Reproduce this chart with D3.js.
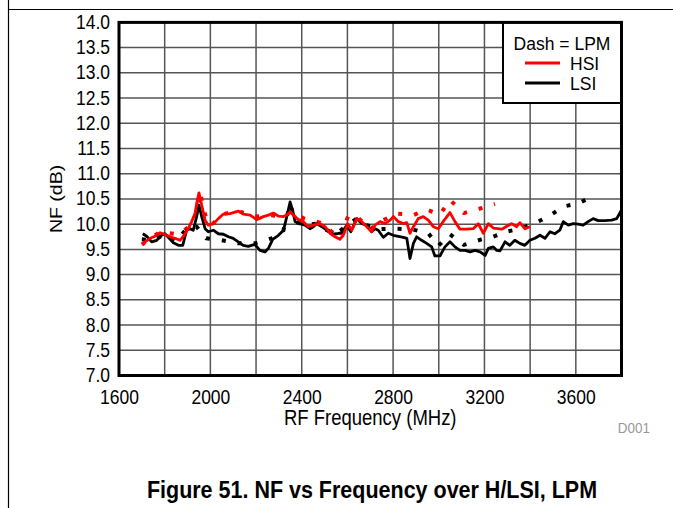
<!DOCTYPE html>
<html>
<head>
<meta charset="utf-8">
<script src="https://cdn.jsdelivr.net/npm/d3@7"></script>
<style>
  body { margin: 0; background: #fff; }
  text { font-family: "Liberation Sans", Arial, sans-serif; fill: #000; }
</style>
</head>
<body>
<div id="chart"></div>
<script>
// data (MHz, dB)
var hsiHpmFreq = [1704,1714,1736,1758,1780,1801,1823,1845,1867,1882,1903,1918,1933,1940,1950,1962,1977,1991,2013,2035,2057,2086,2122,2144,2174,2203,2232,2254,2276,2298,2320,2334,2349,2364,2385,2407,2429,2451,2480,2502,2524,2546,2567,2582,2601,2619,2641,2663,2685,2706,2721,2743,2765,2787,2801,2823,2845,2860,2874,2889,2910,2932,2954,2976,2998,3019,3049,3071,3093,3122,3151,3173,3195,3217,3240,3276,3298,3319,3341,3355,3377,3399];
var hsiHpmNF   = [9.58,9.65,9.72,9.76,9.83,9.80,9.75,9.72,9.68,9.76,9.91,10.05,10.21,10.41,10.62,10.38,10.08,9.98,10.01,10.11,10.20,10.21,10.26,10.20,10.18,10.09,10.15,10.18,10.22,10.16,10.15,10.18,10.24,10.18,10.09,10.05,9.95,9.98,10.01,9.95,9.82,9.75,9.70,9.78,10.01,9.88,10.11,10.05,9.95,9.85,9.98,10.05,10.01,10.08,10.15,10.05,10.01,10.03,9.82,9.95,10.11,10.15,10.08,9.95,9.91,10.05,10.23,10.05,9.90,9.90,9.91,10.01,9.82,10.01,9.92,9.90,9.96,10.01,9.95,10.03,9.91,9.95];

var lsiHpmFreq = [1704,1721,1743,1765,1787,1801,1820,1838,1860,1879,1896,1911,1925,1940,1950,1962,1977,1991,2013,2035,2057,2079,2100,2122,2144,2166,2195,2217,2239,2254,2273,2298,2320,2331,2341,2349,2360,2371,2392,2414,2436,2451,2466,2488,2510,2532,2553,2575,2597,2615,2641,2663,2685,2706,2721,2735,2757,2779,2801,2823,2845,2860,2874,2889,2903,2925,2947,2969,2983,3005,3027,3049,3071,3093,3115,3137,3159,3181,3203,3217,3239,3254,3268,3290,3311,3333,3355,3377,3399,3421,3443,3465,3487,3508,3530,3545,3567,3589,3611,3632,3654,3676,3698,3727,3757,3779,3800];
var lsiHpmNF   = [9.81,9.76,9.65,9.68,9.78,9.81,9.72,9.63,9.58,9.58,9.88,9.91,9.88,10.15,10.38,10.15,9.91,9.85,9.88,9.81,9.80,9.75,9.72,9.65,9.58,9.56,9.60,9.48,9.45,9.52,9.70,9.78,9.88,10.08,10.28,10.44,10.28,10.05,10.01,9.98,9.91,9.95,10.01,9.95,9.88,9.80,9.81,9.83,9.98,9.85,10.11,10.01,9.98,9.85,9.91,9.88,9.74,9.82,9.78,9.76,9.74,9.72,9.32,9.62,9.75,9.68,9.62,9.55,9.37,9.37,9.55,9.65,9.55,9.48,9.48,9.45,9.48,9.45,9.38,9.52,9.55,9.48,9.47,9.65,9.58,9.68,9.62,9.58,9.68,9.72,9.78,9.72,9.85,9.81,9.88,10.05,9.98,10.01,10.00,9.98,10.05,10.11,10.07,10.07,10.08,10.11,10.28];

var hsiLpmFreq = [1700,1740,1780,1820,1853,1880,1918,1940,1955,1970,1990,2013,2057,2122,2195,2254,2298,2349,2407,2480,2524,2567,2604,2648,2699,2757,2816,2889,2947,3005,3049,3110,3181,3246];
var hsiLpmNF   = [9.60,9.72,9.85,9.82,9.80,9.85,10.00,10.25,10.64,10.30,10.00,10.02,10.20,10.26,10.15,10.18,10.16,10.24,10.12,10.03,9.88,9.72,10.17,10.12,9.90,10.08,10.21,10.18,10.29,10.19,10.48,10.22,10.31,10.40];

var lsiLpmFreq = [1700,1750,1800,1850,1896,1940,1981,2050,2122,2195,2268,2320,2349,2371,2414,2466,2510,2553,2597,2641,2685,2735,2808,2882,2954,2998,3049,3110,3181,3238,3294,3358,3429,3484,3545,3611,3684];
var lsiLpmNF   = [9.70,9.68,9.80,9.65,9.91,9.95,9.72,9.68,9.62,9.62,9.72,9.88,10.40,10.05,9.98,10.01,9.88,9.81,9.98,10.11,9.98,9.90,9.91,9.90,9.82,9.57,9.80,9.59,9.69,9.75,9.85,9.91,10.04,10.16,10.35,10.41,10.58];

var xTicks = [1600,2000,2400,2800,3200,3600];
var yTicks = [7.0,7.5,8.0,8.5,9.0,9.5,10.0,10.5,11.0,11.5,12.0,12.5,13.0,13.5,14.0];

var series = [
  {name: "HSI HPM", freq: hsiHpmFreq, nf: hsiHpmNF, color: "#ff0000", dash: null},
  {name: "LSI HPM", freq: lsiHpmFreq, nf: lsiHpmNF, color: "#000000", dash: null},
  {name: "HSI LPM", freq: hsiLpmFreq, nf: hsiLpmNF, color: "#ff0000", dash: "4,12"},
  {name: "LSI LPM", freq: lsiLpmFreq, nf: lsiLpmNF, color: "#000000", dash: "4,12"}
];

var W = 673, H = 508;
var plot = {left: 119, right: 621.5, top: 22.4, bottom: 375.5};
var STRETCH = 1.15; // the source text is a bit taller than it is wide

var svg = d3.select("#chart").append("svg")
  .attr("width", W)
  .attr("height", H);

// put a text with its baseline at (x, y), slightly stretched vertically
function label(parent, x, y, txt, size, anchor, stretch) {
  var s = stretch === undefined ? STRETCH : stretch;
  return parent.append("text")
    .attr("transform", "translate(" + x + "," + y + ") scale(1," + s + ")")
    .attr("text-anchor", anchor || "start")
    .style("font-size", size + "px")
    .text(txt);
}

// page frame lines
svg.append("line").attr("x1", 8.5).attr("x2", 8.5).attr("y1", 0).attr("y2", H)
  .style("stroke", "#000").style("stroke-width", 1.2);
svg.append("line").attr("x1", 8).attr("x2", W).attr("y1", 9.5).attr("y2", 9.5)
  .style("stroke", "#000").style("stroke-width", 1.2);

var x = d3.scaleLinear().domain([1600, 3800]).range([plot.left, plot.right]);
var y = d3.scaleLinear().domain([7, 14]).range([plot.bottom, plot.top]);

// grid
svg.append("g")
  .selectAll("line")
  .data(d3.range(1800, 3800, 200))
  .enter().append("line")
  .attr("x1", d => x(d)).attr("x2", d => x(d))
  .attr("y1", plot.top).attr("y2", plot.bottom)
  .style("stroke", "#555").style("stroke-width", 1.5);
svg.append("g")
  .selectAll("line")
  .data(yTicks.slice(1, -1))
  .enter().append("line")
  .attr("x1", plot.left).attr("x2", plot.right)
  .attr("y1", d => y(d)).attr("y2", d => y(d))
  .style("stroke", "#555").style("stroke-width", 1.5);

// axes: only the labels are kept, the frame is drawn later
var yAxis = svg.append("g")
  .attr("transform", "translate(" + plot.left + ",0)")
  .call(d3.axisLeft(y).tickValues(yTicks).tickFormat(d3.format(".1f")).tickSize(0).tickPadding(9));
var xAxis = svg.append("g")
  .attr("transform", "translate(0," + plot.bottom + ")")
  .call(d3.axisBottom(x).tickValues(xTicks).tickFormat(d3.format("d")).tickSize(0).tickPadding(11));
[yAxis, xAxis].forEach(function(a) {
  a.select(".domain").remove();
  a.selectAll("text")
    .style("font-size", "17.5px").style("fill", "#000")
    .style("font-family", "'Liberation Sans', Arial, sans-serif");
});
yAxis.selectAll("text")
  .attr("x", null).attr("dy", null)
  .attr("transform", "translate(-9,6) scale(1," + STRETCH + ")");
xAxis.selectAll("text")
  .attr("y", null).attr("dy", null)
  .attr("transform", "translate(0,28) scale(1," + STRETCH + ")");

// lines
var line = d3.line()
  .x(d => x(d[0]))
  .y(d => y(d[1]));

svg.append("clipPath").attr("id", "clip")
  .append("rect").attr("x", plot.left).attr("y", plot.top)
  .attr("width", plot.right - plot.left).attr("height", plot.bottom - plot.top);

svg.append("g").attr("clip-path", "url(#clip)")
  .selectAll("path")
  .data(series.slice().reverse())
  .enter().append("path")
  .attr("d", s => line(s.freq.map((f, i) => [f, s.nf[i]])))
  .style("fill", "none")
  .style("stroke", s => s.color)
  .style("stroke-width", s => s.dash ? 4 : 2.8)
  .style("stroke-dasharray", s => s.dash)
  .style("stroke-linejoin", "round");

// legend
var lg = svg.append("g");
lg.append("rect")
  .attr("x", 503).attr("y", plot.top)
  .attr("width", plot.right - 503).attr("height", 103 - plot.top)
  .style("fill", "#fff").style("stroke", "#000").style("stroke-width", 2);
label(lg, 562, 50, "Dash = LPM", 17.5, "middle", 1);
[{label: "HSI", color: "#ff0000", yy: 63}, {label: "LSI", color: "#000", yy: 83}].forEach(function(d) {
  lg.append("line").attr("x1", 525).attr("x2", 560).attr("y1", d.yy).attr("y2", d.yy)
    .style("stroke", d.color).style("stroke-width", 2.8);
  label(lg, 570, d.yy + 6.5, d.label, 17.5, "start", 1);
});

// plot frame
svg.append("rect")
  .attr("x", plot.left).attr("y", plot.top)
  .attr("width", plot.right - plot.left).attr("height", plot.bottom - plot.top)
  .style("fill", "none").style("stroke", "#000").style("stroke-width", 3);

// titles
label(svg, (plot.left + plot.right) / 2, 425, "RF Frequency (MHz)", 18.5, "middle");
svg.append("text")
  .attr("transform", "translate(62," + (plot.top + plot.bottom) / 2 + ") rotate(-90) scale(" + STRETCH + ",1)")
  .attr("text-anchor", "middle").style("font-size", "17px")
  .text("NF (dB)");
label(svg, 650, 433, "D001", 13.5, "end").style("fill", "#999");
label(svg, 372, 498, "Figure 51. NF vs Frequency over H/LSI, LPM", 21.5, "middle")
  .style("font-weight", "bold");
</script>
</body>
</html>
